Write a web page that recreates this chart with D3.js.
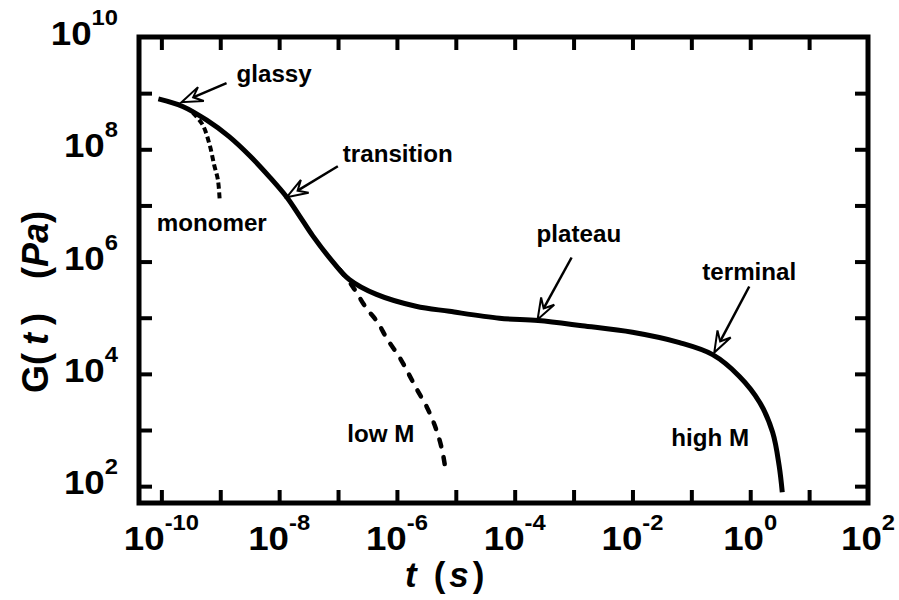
<!DOCTYPE html>
<html>
<head>
<meta charset="utf-8">
<script src="https://cdn.jsdelivr.net/npm/d3@7"></script>
<style>
  html, body { margin: 0; padding: 0; background: #fff; }
  svg text { font-family: "Liberation Sans", Arial, Helvetica, sans-serif; font-weight: bold; fill: #000; }
</style>
</head>
<body>
<svg id="chart" width="899" height="600"></svg>
<script>
// Stress relaxation modulus G(t) of a polymer: time t in s, modulus G in Pa.

// high molecular weight melt (solid curve)
const highM_t = [8.9e-11, 2.3e-10, 5.9e-10, 1.4e-9, 3.2e-9, 6.9e-9, 1.35e-8, 2.2e-8, 3.7e-8, 8.1e-8,
                 1.55e-7, 4.5e-7, 2.1e-6, 7.8e-6, 5.5e-5, 2.5e-4, 1.4e-3, 1.0e-2, 6.3e-2, 0.23,
                 0.65, 1.45, 2.4, 3.1, 3.5];
const highM_G = [7.9e8, 5.8e8, 3.3e8, 1.7e8, 7.6e7, 3.2e7, 1.4e7, 6.6e6, 2.9e6, 1.0e6,
                 4.8e5, 2.6e5, 1.6e5, 1.3e5, 9.8e4, 8.9e4, 7.2e4, 5.5e4, 3.6e4, 2.2e4,
                 9.1e3, 3.1e3, 9.1e2, 2.3e2, 78];

// low molecular weight melt (dashed, leaves the solid curve before the plateau)
const lowM_t = [1.07e-7, 1.8e-7, 3.0e-7, 4.7e-7, 6.9e-7, 1.1e-6, 1.6e-6, 2.2e-6, 3.2e-6, 4.4e-6, 5.8e-6, 6.9e-6];
const lowM_G = [7.2e5, 3.5e5, 1.5e5, 8.3e4, 4.1e4, 2.0e4, 9.8e3, 5.2e3, 2.6e3, 1.2e3, 4.6e2, 1.6e2];

// monomer liquid (short dashes, relaxes out of the glassy zone)
const monomer_t = [3.4e-10, 5.0e-10, 6.6e-10, 7.9e-10, 9.1e-10, 9.8e-10];
const monomer_G = [4.5e8, 2.75e8, 1.2e8, 5.2e7, 2.9e7, 1.2e7];

// axes: a tick every decade, labels on even powers
const xTickExps = [-10, -9, -8, -7, -6, -5, -4, -3, -2, -1, 0, 1];
const yTickExps = [2, 3, 4, 5, 6, 7, 8, 9];
const xLabelExps = [-10, -8, -6, -4, -2, 0, 2];
const yLabelExps = [2, 4, 6, 8, 10];

// relaxation zones pointed at on the solid curve
const zoneNames = ["glassy", "transition", "plateau", "terminal"];
const zoneT = [2.2e-10, 1.35e-8, 2.45e-4, 0.245];
const zoneG = [6.9e8, 1.4e7, 9.3e4, 2.4e4];

// ---------------------------------------------------------------
const svg = d3.select("#chart");
const L = 139, R = 868, T = 37, B = 503;

const x = d3.scaleLog().domain([Math.pow(10, -10.38), 100]).range([L, R]);
const y = d3.scaleLog().domain([Math.pow(10, 1.7), 1e10]).range([B, T]);

const pow10 = e => Math.pow(10, e);
const stretch = 1.08;   // the typeface runs slightly wide

// tick marks on all four sides, pointing inward
function styleTicks(g) {
  g.select(".domain").remove();
  g.selectAll(".tick line").attr("stroke", "#000").attr("stroke-width", 4);
  g.selectAll(".tick text").remove();
}
svg.append("g").attr("transform", `translate(0,${B})`)
  .call(d3.axisBottom(x).tickValues(xTickExps.map(pow10)).tickSize(-13).tickFormat(""))
  .call(styleTicks);
svg.append("g").attr("transform", `translate(0,${T})`)
  .call(d3.axisTop(x).tickValues(xTickExps.map(pow10)).tickSize(-13).tickFormat(""))
  .call(styleTicks);
svg.append("g").attr("transform", `translate(${L},0)`)
  .call(d3.axisLeft(y).tickValues(yTickExps.map(pow10)).tickSize(-13).tickFormat(""))
  .call(styleTicks);
svg.append("g").attr("transform", `translate(${R},0)`)
  .call(d3.axisRight(y).tickValues(yTickExps.map(pow10)).tickSize(-13).tickFormat(""))
  .call(styleTicks);

// frame
svg.append("rect")
  .attr("x", L).attr("y", T).attr("width", R - L).attr("height", B - T)
  .attr("fill", "none").attr("stroke", "#000").attr("stroke-width", 5);

// power-of-ten labels
function powerLabel(sel) {
  sel.append("tspan").attr("font-size", 34).text("10");
  sel.append("tspan").attr("font-size", 22).attr("dy", -20).text(d => d);
}
svg.append("g").selectAll("text").data(xLabelExps).join("text")
  .attr("text-anchor", "middle")
  .attr("transform", d => `translate(${x(pow10(d))},550) scale(${stretch},1)`)
  .call(powerLabel);
svg.append("g").selectAll("text").data(yLabelExps).join("text")
  .attr("text-anchor", "end")
  .attr("transform", d => `translate(118,${y(pow10(d)) + 8}) scale(${stretch},1)`)
  .call(powerLabel);

// axis titles
const xt = svg.append("text").attr("font-size", 35).attr("transform", "translate(405,587)");
xt.append("tspan").attr("font-style", "italic").text("t");
xt.append("tspan").attr("dx", 17).text("(");
xt.append("tspan").attr("dx", 4).attr("font-style", "italic").text("s");
xt.append("tspan").attr("dx", 4).text(")");

const yt = svg.append("text").attr("font-size", 36).attr("transform", "translate(48,393) rotate(-90)");
yt.append("tspan").text("G(");
yt.append("tspan").attr("dx", 8).attr("font-style", "italic").text("t");
yt.append("tspan").attr("dx", 8).text(")");
yt.append("tspan").attr("dx", 34).text("(");
yt.append("tspan").attr("font-style", "italic").text("Pa");
yt.append("tspan").text(")");

// curves
const line = d3.line().x(d => x(d[0])).y(d => y(d[1])).curve(d3.curveCatmullRom.alpha(0.5));
const zip = (a, b) => a.map((v, i) => [v, b[i]]);

svg.append("path").datum(zip(highM_t, highM_G)).attr("d", line)
  .attr("fill", "none").attr("stroke", "#000").attr("stroke-width", 5);
svg.append("path").datum(zip(lowM_t, lowM_G)).attr("d", line)
  .attr("fill", "none").attr("stroke", "#000").attr("stroke-width", 4.5)
  .attr("stroke-dasharray", "7,11").attr("stroke-linecap", "round");
svg.append("path").datum(zip(monomer_t, monomer_G)).attr("d", line)
  .attr("fill", "none").attr("stroke", "#000").attr("stroke-width", 4)
  .attr("stroke-dasharray", "6,3.5");

// curve labels, placed from the end of each curve
const curveLabelFont = 23;
function endLabel(text, tArr, gArr, dx, dy) {
  const n = tArr.length - 1;
  svg.append("text").attr("font-size", curveLabelFont)
    .attr("transform", `translate(${x(tArr[n]) + dx},${y(gArr[n]) + dy}) scale(1.05,1)`)
    .text(text);
}
endLabel("monomer", monomer_t, monomer_G, -63, 30);
endLabel("low M", lowM_t, lowM_G, -99, -33);
endLabel("high M", highM_t, highM_G, -111, -46);

// zone arrows: open notched heads touching the curve
const tailOffset = [[45, -19], [51, -31], [34, -62], [35, -66]];
const textOffset = [[55, -20], [56, -35], [-1, -77], [-12, -73]];

function arrow(tx, ty, sx, sy) {
  const len = Math.hypot(tx - sx, ty - sy);
  const ux = (tx - sx) / len, uy = (ty - sy) / len;
  const px = -uy, py = ux;
  const H = 21, W = 7.5, notch = 0.6;
  const bx = tx - ux * H, by = ty - uy * H;
  const nx = tx - ux * H * notch, ny = ty - uy * H * notch;
  svg.append("line").attr("x1", sx).attr("y1", sy).attr("x2", nx).attr("y2", ny)
    .attr("stroke", "#000").attr("stroke-width", 2.5);
  svg.append("path")
    .attr("d", `M${tx},${ty}L${bx + px * W},${by + py * W}L${nx},${ny}L${bx - px * W},${by - py * W}Z`)
    .attr("fill", "#fff").attr("stroke", "#000").attr("stroke-width", 2).attr("stroke-linejoin", "miter");
}

zoneNames.forEach((name, i) => {
  const tx = x(zoneT[i]), ty = y(zoneG[i]);
  arrow(tx, ty, tx + tailOffset[i][0], ty + tailOffset[i][1]);
  svg.append("text").attr("font-size", curveLabelFont)
    .attr("transform", `translate(${tx + textOffset[i][0]},${ty + textOffset[i][1]}) scale(1.05,1)`)
    .text(name);
});
</script>
</body>
</html>
